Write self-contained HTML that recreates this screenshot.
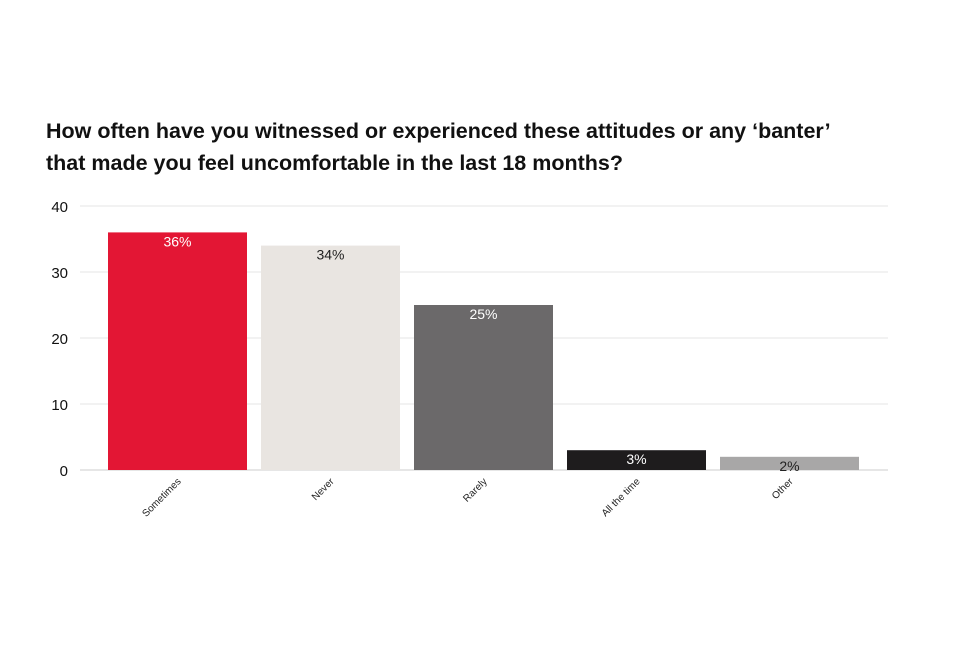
<!DOCTYPE html>
<html><head><meta charset="utf-8"><style>
body{margin:0;background:#fff;width:972px;height:648px;overflow:hidden;font-family:"Liberation Sans",Arial,sans-serif}
svg{position:absolute;left:0;top:0}
</style></head><body>
<svg width="972" height="648">
<text x="46" y="138" font-size="21.5" font-weight="bold" fill="#111">How often have you witnessed or experienced these attitudes or any ‘banter’</text>
<text x="46" y="170" font-size="21.5" font-weight="bold" fill="#111">that made you feel uncomfortable in the last 18 months?</text>
<g id="grid"></g><g id="bars"></g><g id="labels"></g>
</svg>
<script>
const categories=["Sometimes","Never","Rarely","All the time","Other"];
const values=[36,34,25,3,2];
const valueLabels=["36%","34%","25%","3%","2%"];
const ticks=[0,10,20,30,40];
const colors=["#e31634","#e9e5e1","#6b696a","#1e1c1d","#a8a7a7"];
const textColors=["#fff","#222","#fff","#fff","#222"];
const NS="http://www.w3.org/2000/svg";
const y0=470,y40=206,xL=80,xR=888,bandStart=101,bandW=153,barW=139;
const y=v=>y0-(y0-y40)*v/40;
const xc=i=>bandStart+bandW*i+bandW/2;
function mk(t,a,p){const e=document.createElementNS(NS,t);for(const k in a)e.setAttribute(k,a[k]);p.appendChild(e);return e;}
const g=document.getElementById('grid'),b=document.getElementById('bars'),l=document.getElementById('labels');
ticks.forEach(t=>{
 const ln=mk('line',{x1:xL,x2:xR,y1:y(t),y2:y(t),stroke:t===0?'#ccc':'#e4e4e4','stroke-width':1},g);
 
 
 const tx=mk('text',{x:68,y:y(t)+6,'font-size':15,'text-anchor':'end',fill:'#111'},g);
 tx.textContent=t;
 
 
});
categories.forEach((c,i)=>{
 const r=mk('rect',{x:xc(i)-barW/2,y:y(values[i]),width:barW,height:y0-y(values[i]),fill:colors[i]},b);
 
 
 const v=mk('text',{x:xc(i),y:y(values[i])+14,'font-size':14,'text-anchor':'middle',fill:textColors[i]},l);
 v.textContent=valueLabels[i];
 
 
 const cx=xc(i)+4,cy=482;
 const t=mk('text',{x:cx,y:cy,'font-size':10,'text-anchor':'end',fill:'#222',transform:`rotate(-45 ${cx} ${cy})`},l);
 t.textContent=c;
 
 
});
</script>
</body></html>
